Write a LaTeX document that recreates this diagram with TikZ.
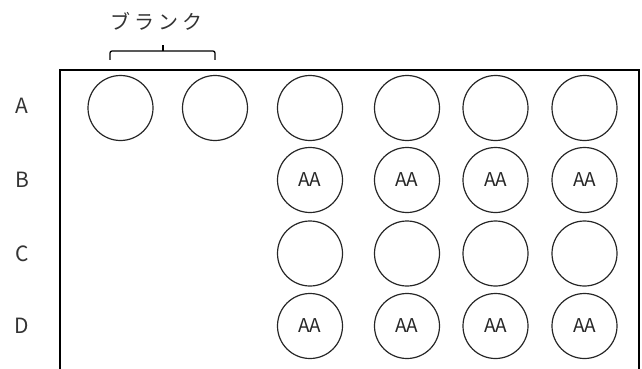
\documentclass[tikz,border=0pt]{standalone}
\usepackage{fontspec}
\setmainfont{Noto Sans CJK JP}
\usetikzlibrary{positioning}

\tikzset{
  well/.style={draw=black!85, line width=1.2pt, circle, minimum size=65pt, inner sep=0pt,
    text=black!85, font=\fontsize{19}{19}\selectfont},
  rowlabel/.style={text=black!80, font=\fontsize{21}{21}\selectfont},
}

\begin{document}
\begin{tikzpicture}[x=1pt,y=-1pt]
    \useasboundingbox (0,0) rectangle (642,369);

    % Plate outline, open at the bottom
    \draw[line width=1.5pt] (60,369) -- (60,70) -- (639,70) -- (639,369);

    % Row labels
    \foreach \r/\y in {A/106,B/180,C/253.5,D/326}
        \node[rowlabel] (lab\r) at (22,\y) {\r};

    % Wells
    \foreach \c/\x in {1/120.5,2/215,3/310,4/407,5/495.5,6/584.5}
        \node[well] (A\c) at (\x,108) {};
    \foreach \c/\x in {3/310,4/407,5/495.5,6/584.5} {
        \node[well] (B\c) at (\x,180) {AA};
        \node[well] (C\c) at (\x,253.5) {};
        \node[well] (D\c) at (\x,326) {AA};
    }

    % Blank bracket
    \coordinate (brL) at (110,60);
    \coordinate (brR) at (215,60);
    \draw[line width=1.3pt, rounded corners=2pt] (brL) -- (110,51) -- (215,51) -- (brR);
    \draw[line width=2pt] (162.5,51) -- (162.5,45);
    \node[text=black!80, font=\fontsize{20}{20}\selectfont\addfontfeature{LetterSpace=20}] (blank) at (156,21) {ブランク};
\end{tikzpicture}
\end{document}
